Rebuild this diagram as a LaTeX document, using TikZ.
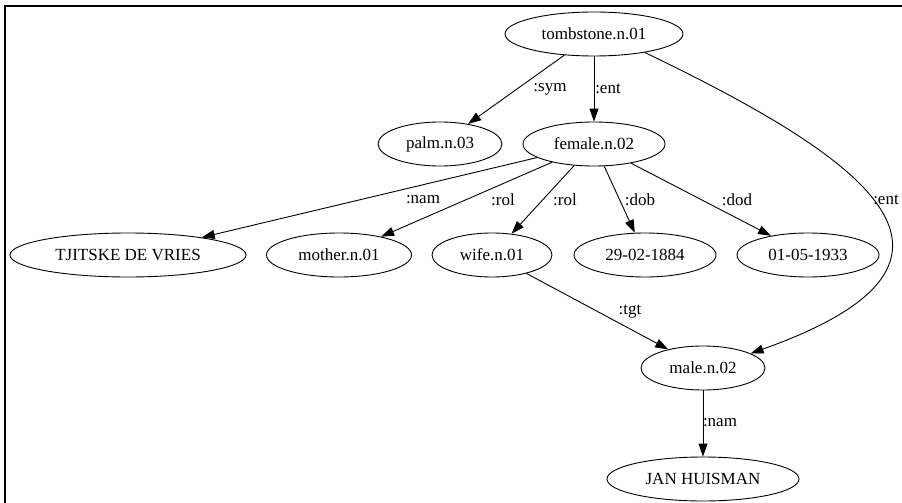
\documentclass[tikz,border=0pt]{standalone}
\usepackage{fontspec}
\setmainfont{Liberation Serif}
\usetikzlibrary{shapes.geometric, arrows.meta}

\begin{document}
\begin{tikzpicture}[x=1pt, y=-1pt, font=\fontsize{17}{20}\selectfont,
    concept/.style={ellipse, draw, line width=0.9pt, inner sep=0pt, minimum height=44pt},
    rel/.style={-{Triangle[length=13pt, width=9pt]}, line width=0.9pt},
    lbl/.style={inner sep=0pt}]
    \useasboundingbox (0,0) rectangle (902,503);
    \draw[line width=1.3pt] (5,503) -- (5,6) -- (902,6);

    \node[concept, minimum width=178pt] (tomb) at (594,34) {tombstone.n.01};
    \node[concept, minimum width=124pt] (palm) at (440,144) {palm.n.03};
    \node[concept, minimum width=142pt] (female) at (594,144) {female.n.02};
    \node[concept, minimum width=236pt] (tjitske) at (128,255) {TJITSKE DE VRIES};
    \node[concept, minimum width=145pt] (mother) at (339,255) {mother.n.01};
    \node[concept, minimum width=120pt] (wife) at (492,255) {wife.n.01};
    \node[concept, minimum width=142pt] (dob) at (645,255) {29-02-1884};
    \node[concept, minimum width=142pt] (dod) at (808,255) {01-05-1933};
    \node[concept, minimum width=124pt] (male) at (703,368) {male.n.02};
    \node[concept, minimum width=192pt] (jan) at (703,479) {JAN HUISMAN};

    \draw[rel] (tomb) -- (palm);
    \draw[rel] (tomb) -- (female);
    \draw[rel] (tomb.-20) .. controls (860,156) and (1014,260) .. (male.17);
    \draw[rel] (female) -- (tjitske);
    \draw[rel] (female) -- (mother);
    \draw[rel] (female) -- (wife);
    \draw[rel] (female) -- (dob);
    \draw[rel] (female) -- (dod);
    \draw[rel] (wife) -- (male);
    \draw[rel] (male) -- (jan);

    % edge labels
    \node[lbl] (l-sym) at (550,89) {:sym};
    \node[lbl] (l-ent) at (608,89) {:ent};
    \node[lbl] (l-ent2) at (886,200) {:ent};
    \node[lbl] (l-nam) at (423,200) {:nam};
    \node[lbl] (l-rol) at (503,200) {:rol};
    \node[lbl] (l-rol2) at (565,200) {:rol};
    \node[lbl] (l-dob) at (640,200) {:dob};
    \node[lbl] (l-dod) at (737,200) {:dod};
    \node[lbl] (l-tgt) at (630,312) {:tgt};
    \node[lbl] (l-nam2) at (720,423) {:nam};
\end{tikzpicture}
\end{document}
